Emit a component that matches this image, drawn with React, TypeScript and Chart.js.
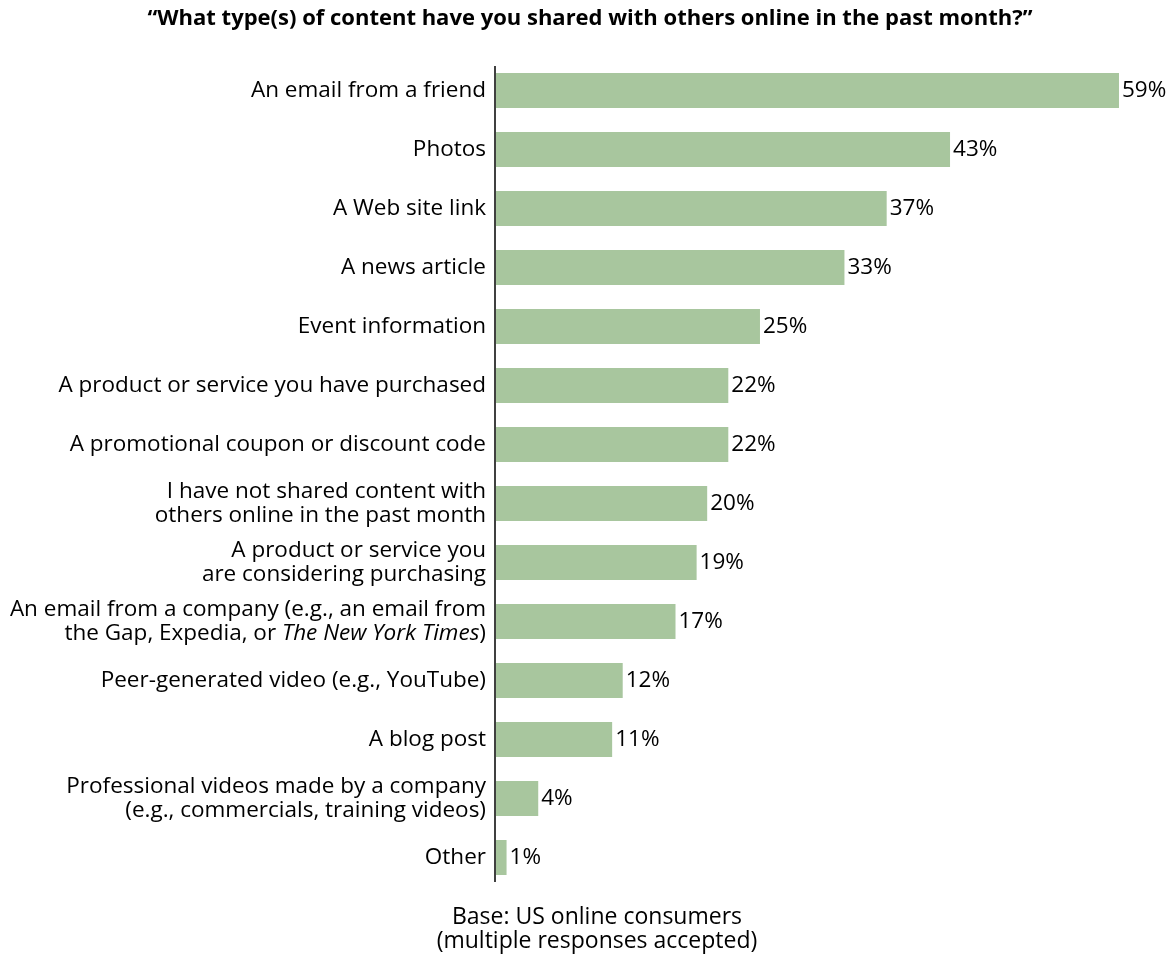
import React, { useEffect, useRef } from "react";
import { Chart, registerables } from "chart.js";

Chart.register(...registerables);

const titleText = "\u201CWhat type(s) of content have you shared with others online in the past month?\u201D";
const footerLines = ["Base: US online consumers", "(multiple responses accepted)"];

const categories: string[][] = [
  ["An email from a friend"],
  ["Photos"],
  ["A Web site link"],
  ["A news article"],
  ["Event information"],
  ["A product or service you have purchased"],
  ["A promotional coupon or discount code"],
  ["I have not shared content with", "others online in the past month"],
  ["A product or service you", "are considering purchasing"],
  ["An email from a company (e.g., an email from", "the Gap, Expedia, or The New York Times)"],
  ["Peer-generated video (e.g., YouTube)"],
  ["A blog post"],
  ["Professional videos made by a company", "(e.g., commercials, training videos)"],
  ["Other"],
];

const values: number[] = [59, 43, 37, 33, 25, 22, 22, 20, 19, 17, 12, 11, 4, 1];

const italicPhrase = "The New York Times";

const FONT = '"Open Sans", "Noto Sans", sans-serif';
const LABEL_SIZE = 22.5;
const BAR_COLOR = "#a8c69e";

const labelsPlugin = {
  id: "customLabels",
  afterDraw(chart: any) {
    const ctx = chart.ctx;
    const area = chart.chartArea;
    const yScale = chart.scales.y;
    const xScale = chart.scales.x;
    ctx.save();
    // title
    ctx.fillStyle = "#000";
    ctx.textAlign = "center";
    ctx.textBaseline = "middle";
    ctx.font = `bold 22px ${FONT}`;
    ctx.fillText(titleText, 590, 19);

    // axis line
    ctx.strokeStyle = "#000";
    ctx.lineWidth = 1.5;
    ctx.beginPath();
    ctx.moveTo(area.left - 1, area.top + 5);
    ctx.lineTo(area.left - 1, area.bottom - 5);
    ctx.stroke();

    // category labels
    ctx.textBaseline = "middle";
    const lineH = 24;
    categories.forEach((lines, i) => {
      const yc = yScale.getPixelForValue(i);
      const x = area.left - 10;
      lines.forEach((line, j) => {
        const y = yc + (j - (lines.length - 1) / 2) * lineH;
        const idx = line.indexOf(italicPhrase);
        if (idx >= 0) {
          const pre = line.slice(0, idx);
          const post = line.slice(idx + italicPhrase.length);
          ctx.textAlign = "left";
          ctx.font = `${LABEL_SIZE}px ${FONT}`;
          const wPre = ctx.measureText(pre).width;
          const wPost = ctx.measureText(post).width;
          ctx.font = `italic ${LABEL_SIZE}px ${FONT}`;
          const wIt = ctx.measureText(italicPhrase).width;
          let sx = x - (wPre + wIt + wPost);
          ctx.font = `${LABEL_SIZE}px ${FONT}`;
          ctx.fillText(pre, sx, y);
          sx += wPre;
          ctx.font = `italic ${LABEL_SIZE}px ${FONT}`;
          ctx.fillText(italicPhrase, sx, y);
          sx += wIt;
          ctx.font = `${LABEL_SIZE}px ${FONT}`;
          ctx.fillText(post, sx, y);
        } else {
          ctx.textAlign = "right";
          ctx.font = `${LABEL_SIZE}px ${FONT}`;
          ctx.fillText(line, x, y);
        }
      });
    });

    // value labels
    ctx.textAlign = "left";
    ctx.font = `${LABEL_SIZE}px ${FONT}`;
    values.forEach((v, i) => {
      const x = xScale.getPixelForValue(v) + 3;
      const y = yScale.getPixelForValue(i);
      ctx.fillText(`${v}%`, x, y);
    });

    // footer
    ctx.textAlign = "center";
    ctx.font = `23px ${FONT}`;
    footerLines.forEach((l, j) => {
      ctx.fillText(l, 597, 917 + j * 24);
    });
    ctx.restore();
  },
};

export default function App() {
  const ref = useRef<HTMLCanvasElement | null>(null);
  useEffect(() => {
    document.body.style.margin = "0";
    const canvas = ref.current;
    if (!canvas) return;
    const chart = new Chart(canvas, {
      type: "bar",
      data: {
        labels: categories.map((c) => c.join(" ")),
        datasets: [
          {
            data: values,
            backgroundColor: BAR_COLOR,
            borderWidth: 0,
            categoryPercentage: 1,
            barPercentage: 35 / 59,
          },
        ],
      },
      options: {
        indexAxis: "y",
        animation: false,
        responsive: false,
        devicePixelRatio: 1,
        layout: { padding: { left: 496, right: 0, top: 61, bottom: 73 } },
        scales: {
          x: { display: false, min: 0, max: 64.4 },
          y: { display: false },
        },
        plugins: {
          legend: { display: false },
          tooltip: { enabled: false },
          title: { display: false },
        },
      },
      plugins: [labelsPlugin],
    });
    return () => chart.destroy();
  }, []);
  return (
    <div style={{ position: "absolute", left: 0, top: 0, width: 1176, height: 960, background: "#fff" }}>
      <canvas ref={ref} width={1176} height={960} />
    </div>
  );
}
